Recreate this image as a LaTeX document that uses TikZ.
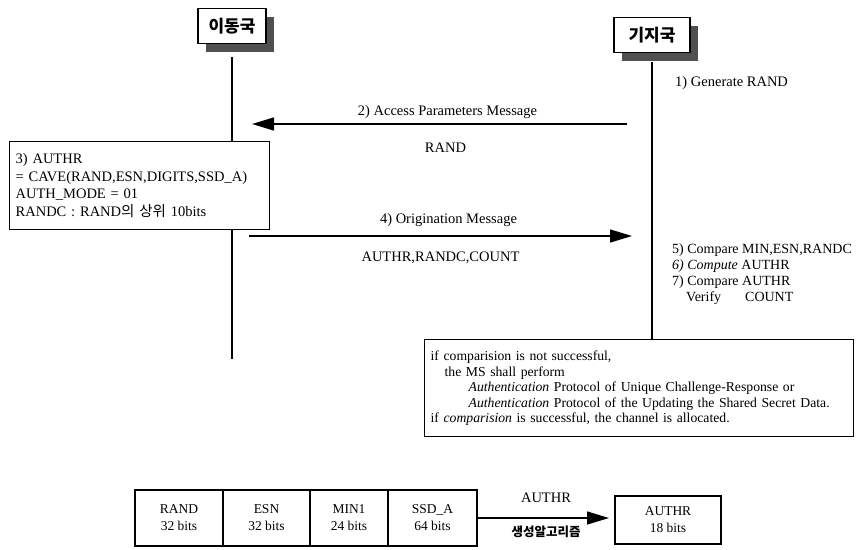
\documentclass[tikz,border=0pt]{standalone}
\usepackage{fontspec}
\setmainfont{Liberation Serif}
\newfontfamily\kr{Noto Sans CJK KR}
\usepackage{xcolor}
\usepackage{tikz}
\usetikzlibrary{positioning, arrows.meta, shadows}
\definecolor{shadowgray}{HTML}{505050}

\tikzset{
  station/.style={draw, line width=1.4pt, fill=white, minimum height=35pt,
    font=\kr\bfseries\fontsize{17}{20}\selectfont,
    drop shadow={shadow xshift=8pt, shadow yshift=-8pt, fill=shadowgray, opacity=1}},
  lifeline/.style={line width=1.4pt},
  msgarrow/.style={line width=1.4pt, -{Triangle[length=22pt, width=13pt]}},
  lbl/.style={font=\fontsize{14.5}{17}\selectfont, inner sep=0pt},
  notebox/.style={draw, line width=1.3pt, fill=white, align=left, inner xsep=6pt,
    font=\fontsize{14.5}{17.5}\selectfont},
  bitbox/.style={draw, line width=1.3pt, minimum height=56pt, align=center,
    inner sep=0pt, outer sep=0pt, font=\fontsize{13.5}{17}\selectfont}
}

\begin{document}
\begin{tikzpicture}[x=1pt, y=-1pt]
    \useasboundingbox (0,0) rectangle (859,549);

    \node[station, minimum width=68pt] (ms) at (232,26) {이동국};
    \node[station, minimum width=76pt] (bs) at (652,35) {기지국};

    \node[notebox, anchor=north west, text width=248pt, minimum height=88pt]
      (authbox) at (9,141) {%
      3) AUTHR\\
      = CAVE(RAND,ESN,DIGITS,SSD\_A)\\
      AUTH\_MODE = 01\\
      RANDC : RAND{\kr 의 상위} 10bits};

    \node[notebox, anchor=north west, text width=417pt, minimum height=97pt,
          font=\fontsize{13.7}{15.5}\selectfont]
      (cmpnote) at (424,339) {%
      if comparision is not successful,\\
      \hspace*{14pt}the MS shall perform\\
      \hspace*{38pt}\textit{Authentication} Protocol of Unique Challenge-Response or\\
      \hspace*{38pt}\textit{Authentication} Protocol of the Updating the Shared Secret Data.\\
      if \textit{comparision} is successful, the channel is allocated.};

    \coordinate (msend) at (232,359);
    \draw[lifeline] ([yshift=-13pt]ms.south) -- (authbox.north -| ms);
    \draw[lifeline] (authbox.south -| ms) -- (msend);
    \draw[lifeline] ([yshift=-9pt]bs.south) -- (cmpnote.north -| bs);

    \node[lbl, anchor=west] (genrand) at (675,83) {1) Generate RAND};

    \coordinate (apfrom) at (627,124);
    \coordinate (apto) at (252,124);
    \draw[msgarrow] (apfrom) -- (apto)
      node[lbl, midway, yshift=12pt, xshift=8pt] {2) Access Parameters Message}
      node[lbl, midway, yshift=-24pt, xshift=6pt] {RAND};

    \coordinate (orfrom) at (249,236);
    \coordinate (orto) at (632,236);
    \draw[msgarrow] (orfrom) -- (orto)
      node[lbl, midway, yshift=16pt, xshift=8pt] {4) Origination Message}
      node[lbl, midway, yshift=-22pt] {AUTHR,RANDC,COUNT};

    \node[lbl, anchor=north west, align=left, font=\fontsize{14}{16}\selectfont]
      (verify) at (672,244) {%
      5) Compare MIN,ESN,RANDC\\
      \textit{6) Compute} AUTHR\\
      7) Compare AUTHR\\
      \hspace*{14pt}Verify\hspace*{24pt}COUNT};

    \node[bitbox, minimum width=88pt] (randbits) at (179,518) {RAND\\32 bits};
    \node[bitbox, minimum width=87pt, right=0pt of randbits] (esnbits) {ESN\\32 bits};
    \node[bitbox, minimum width=78pt, right=0pt of esnbits] (minbits) {MIN1\\24 bits};
    \node[bitbox, minimum width=89pt, right=0pt of minbits] (ssdbits) {SSD\_A\\64 bits};
    \node[bitbox, minimum width=106pt, minimum height=48pt] (authrbits) at (668,520)
      {AUTHR\\18 bits};

    \draw[msgarrow, shorten >=6pt] (ssdbits.east) -- (ssdbits.east -| authrbits.west)
      node[lbl, midway, yshift=20pt] {AUTHR}
      node[lbl, midway, yshift=-14pt, font=\kr\bfseries\fontsize{12.5}{14}\selectfont] {생성알고리즘};
\end{tikzpicture}
\end{document}
